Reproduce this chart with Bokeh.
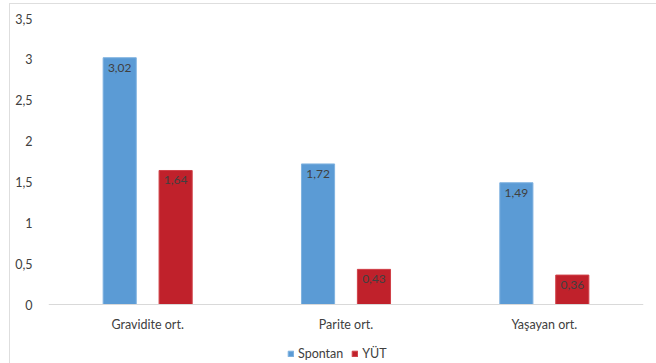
from bokeh.plotting import figure
from bokeh.models import (ColumnDataSource, FactorRange, Range1d, FixedTicker,
                          CustomJSTickFormatter, Legend, LegendItem, Span)
from bokeh.transform import dodge
from bokeh.core.properties import value
from bokeh.embed import file_html
from bokeh.resources import INLINE

categories = ["Gravidite ort.", "Parite ort.", "Yaşayan ort."]
spontan = [3.02, 1.72, 1.49]
yut = [1.64, 0.43, 0.36]
series_names = ["Spontan", "YÜT"]
y_ticks = [0, 0.5, 1, 1.5, 2, 2.5, 3, 3.5]

def fmt(v):
    return f"{v:.2f}".replace(".", ",")

src = ColumnDataSource(dict(
    cat=categories,
    zero=[0] * len(categories),
    spontan=spontan,
    yut=yut,
    spontan_lbl=[fmt(v) for v in spontan],
    yut_lbl=[fmt(v) for v in yut],
))

FONT = "Lato"
BLUE = "#5B9BD5"
RED = "#C0212B"
TXT = "#404040"

# frame: top 18 (y=3.5), bottom of canvas 363; y=0 at pixel 304 -> 81.71 px per unit
y_bottom = -(363 - 304) / ((304 - 18) / 3.5)

p = figure(width=656, height=363, x_range=FactorRange(*categories, range_padding=0),
           y_range=Range1d(y_bottom, 3.5), output_backend="svg", toolbar_location=None,
           min_border_left=48, min_border_right=13, min_border_top=18, min_border_bottom=0)
p.outline_line_color = None
p.xgrid.grid_line_color = None
p.ygrid.grid_line_color = None
p.xaxis.visible = False

p.add_layout(Span(location=0, dimension="width", line_color="#D9D9D9", line_width=1))

r1 = p.vbar(x=dodge("cat", -0.141, range=p.x_range), top="spontan", width=0.167,
            source=src, fill_color=BLUE, line_color="#7FB2E0", line_width=1)
r2 = p.vbar(x=dodge("cat", 0.141, range=p.x_range), top="yut", width=0.167,
            source=src, fill_color=RED, line_color="#D04048", line_width=1)

p.text(x=dodge("cat", -0.141, range=p.x_range), y="spontan", text="spontan_lbl", source=src,
       text_align="center", text_baseline="top", y_offset=6,
       text_font=value(FONT), text_font_size="12px", text_color=TXT)
p.text(x=dodge("cat", 0.141, range=p.x_range), y="yut", text="yut_lbl", source=src,
       text_align="center", text_baseline="top", y_offset=6,
       text_font=value(FONT), text_font_size="12px", text_color=TXT)

# category labels
p.text(x="cat", y="zero", text="cat", source=src, text_align="center",
       text_baseline="middle", y_offset=20,
       text_font=value(FONT), text_font_size="12.5px", text_color=TXT)

ya = p.yaxis[0]
ya.ticker = FixedTicker(ticks=y_ticks)
ya.formatter = CustomJSTickFormatter(code="return tick.toString().replace('.', ',');")
ya.axis_line_color = None
ya.major_tick_line_color = None
ya.minor_tick_line_color = None
ya.major_label_text_font = FONT
ya.major_label_text_font_size = "12.5px"
ya.major_label_text_color = TXT
ya.major_label_standoff = 10

legend = Legend(items=[LegendItem(label=series_names[0], renderers=[r1]),
                       LegendItem(label=series_names[1], renderers=[r2])],
                orientation="horizontal", location=(239, 2),
                glyph_width=7, glyph_height=7, label_standoff=4, spacing=8,
                padding=0, margin=0, border_line_color=None, background_fill_alpha=0,
                label_text_font=FONT, label_text_font_size="12.5px", label_text_color=TXT)
p.add_layout(legend, "center")

p.stylesheets = [":host::after { content: ''; position: absolute; left: 9px; top: 3px; "
                 "width: 646px; height: 360px; border-top: 1px solid #DEDEDE; "
                 "border-left: 1px solid #DEDEDE; pointer-events: none; }"]

open("out.html", "w").write(file_html(p, INLINE))
